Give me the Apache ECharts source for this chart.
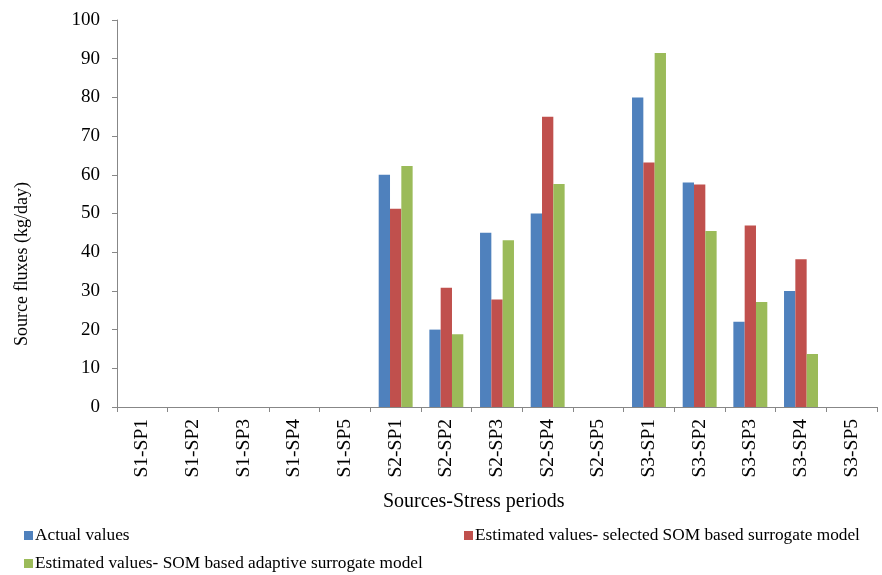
<!DOCTYPE html>
<html><head><meta charset="utf-8">
<script src="https://cdn.jsdelivr.net/npm/echarts@6/dist/echarts.min.js"></script>
<style>html,body{margin:0;padding:0;background:#fff}#c{width:882px;height:575px}</style>
</head><body><div id="c"></div>
<script>
var categories = ['S1-SP1','S1-SP2','S1-SP3','S1-SP4','S1-SP5','S2-SP1','S2-SP2','S2-SP3','S2-SP4','S2-SP5','S3-SP1','S3-SP2','S3-SP3','S3-SP4','S3-SP5'];
var actualValues = [0,0,0,0,0,60,20,45,50,0,80,58,22,30,0];
var selectedSOM = [0,0,0,0,0,51.2,30.8,27.8,75,0,63.2,57.5,46.9,38.2,0];
var adaptiveSOM = [0,0,0,0,0,62.3,18.8,43.1,57.6,0,91.5,45.5,27.1,13.7,0];
var seriesNames = ['Actual values','Estimated values- selected SOM based surrogate model','Estimated values- SOM based adaptive surrogate model'];
var xTitle = 'Sources-Stress periods';
var yTitle = 'Source fluxes (kg/day)';
var colors = ['#4F81BD','#C0504D','#9BBB59'];
var font = 'Liberation Serif, Times New Roman, serif';
var chart = echarts.init(document.getElementById('c'));
function leg(name, left, top){
  return {data:[name], left:left, top:top, orient:'horizontal', itemWidth:9, itemHeight:9, itemGap:2, icon:'rect',
    textStyle:{fontFamily:font, fontSize:17.3, color:'#000', padding:[0,0,0,-3]}, selectedMode:false, padding:0};
}
chart.setOption({
  animation:false,
  color: colors,
  grid:{left:117, right:5, top:20, bottom:168, containLabel:false},
  legend:[leg(seriesNames[0],24,527), leg(seriesNames[1],464,527), leg(seriesNames[2],24,555)],
  graphic:[
    {type:'text', left:13, top:182, style:{text:yTitle, fontFamily:font, fontSize:18, fill:'#000'}, rotation:Math.PI/2, originX:0, originY:0,
     x:0, y:0},
    {type:'text', left:383, top:492, style:{text:xTitle, fontFamily:font, fontSize:20, fill:'#000'}}
  ],
  xAxis:{type:'category', data:categories,
    axisLine:{lineStyle:{color:'#878787'}},
    axisTick:{show:true, length:5, alignWithLabel:false, lineStyle:{color:'#878787'}},
    axisLabel:{rotate:90, fontFamily:font, fontSize:19.5, color:'#000', margin:12}},
  yAxis:{type:'value', min:0, max:100, interval:10,
    axisLine:{show:true, lineStyle:{color:'#878787'}},
    axisTick:{show:true, length:5, lineStyle:{color:'#878787'}},
    splitLine:{show:false},
    axisLabel:{fontFamily:font, fontSize:19, color:'#000', margin:17}},
  series:[
    {name:seriesNames[0], type:'bar', data:actualValues, barGap:'0%', barCategoryGap:'33%'},
    {name:seriesNames[1], type:'bar', data:selectedSOM, barGap:'0%', barCategoryGap:'33%'},
    {name:seriesNames[2], type:'bar', data:adaptiveSOM, barGap:'0%', barCategoryGap:'33%'}
  ]
});
</script></body></html>
